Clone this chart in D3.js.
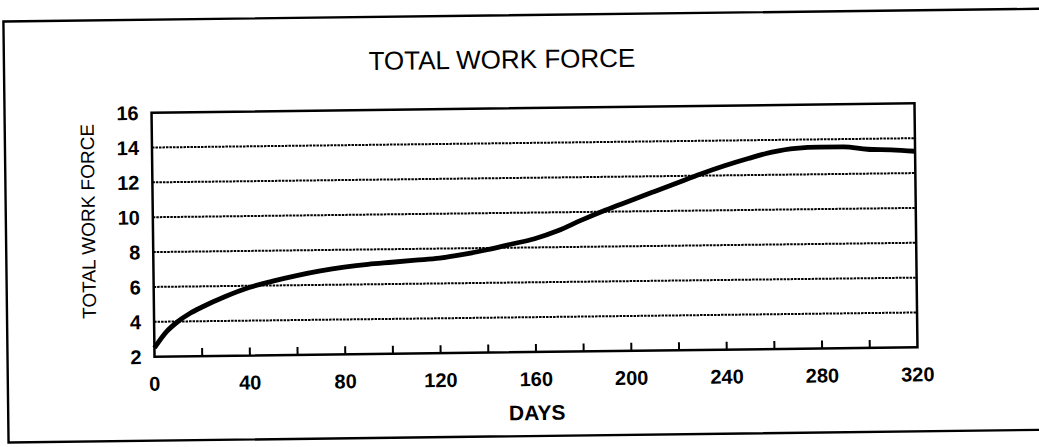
<!DOCTYPE html>
<html>
<head>
<meta charset="utf-8">
<script src="https://cdn.jsdelivr.net/npm/d3@7"></script>
<style>
  html, body { margin: 0; padding: 0; background: #fff; }
  svg { display: block; }
  text { font-family: "Liberation Sans", Arial, sans-serif; fill: #000; }
</style>
</head>
<body>
<svg id="chart" width="1039" height="447"></svg>
<script>
// ---- data ----
const days = [0,5,10,15,20,30,40,50,60,70,80,90,100,110,120,130,140,150,160,170,180,190,200,210,220,230,240,250,260,270,280,290,300,310,320];
const workForce = [2.5,3.4,4.0,4.45,4.8,5.4,5.9,6.25,6.55,6.8,7.0,7.15,7.25,7.35,7.45,7.65,7.9,8.2,8.5,8.95,9.55,10.1,10.6,11.1,11.6,12.1,12.55,12.95,13.3,13.5,13.55,13.55,13.4,13.35,13.25];
const xTickLabels = [0,40,80,120,160,200,240,280,320];
const xMinorTicks = [20,40,60,80,100,120,140,160,180,200,220,240,260,280,300];
const yTickLabels = [2,4,6,8,10,12,14,16];
const chartTitle = "TOTAL WORK FORCE";
const xTitle = "DAYS";
const yTitle = "TOTAL WORK FORCE";

// ---- layout ----
const plot = {left: 153, right: 916, top: 108, bottom: 352};

const svg = d3.select("#chart");
const g = svg.append("g").attr("transform", "rotate(-0.7 534 230)");

// outer frame
g.append("rect")
  .attr("x", 6).attr("y", 15)
  .attr("width", 1060).attr("height", 421)
  .attr("fill", "none").attr("stroke", "#000").attr("stroke-width", 2.4);

const x = d3.scaleLinear().domain([0, 320]).range([plot.left, plot.right]);
const y = d3.scaleLinear().domain([2, 16]).range([plot.bottom, plot.top]);

// title
g.append("text")
  .attr("x", 504).attr("y", 68)
  .attr("text-anchor", "middle")
  .attr("font-size", 26)
  .text(chartTitle);

// gridlines (dotted)
g.append("g").selectAll("line")
  .data(yTickLabels.filter(v => v > 2 && v < 16))
  .join("line")
  .attr("x1", plot.left).attr("x2", plot.right)
  .attr("y1", d => y(d)).attr("y2", d => y(d))
  .attr("stroke", "#000")
  .attr("stroke-width", 2)
  .attr("stroke-dasharray", "2.5,1");

// minor x ticks (pointing up into plot)
g.append("g").selectAll("line")
  .data(xMinorTicks)
  .join("line")
  .attr("x1", d => x(d)).attr("x2", d => x(d))
  .attr("y1", plot.bottom).attr("y2", plot.bottom - 8)
  .attr("stroke", "#000").attr("stroke-width", 2);

// plot border
g.append("rect")
  .attr("x", plot.left).attr("y", plot.top)
  .attr("width", plot.right - plot.left).attr("height", plot.bottom - plot.top)
  .attr("fill", "none").attr("stroke", "#000").attr("stroke-width", 2.5);

// y tick labels
g.append("g").selectAll("text")
  .data(yTickLabels)
  .join("text")
  .attr("x", 140).attr("y", d => y(d))
  .attr("dy", "0.36em")
  .attr("text-anchor", "end")
  .attr("font-size", 20)
  .attr("font-weight", "bold")
  .text(d => d);

// x tick labels
g.append("g").selectAll("text")
  .data(xTickLabels)
  .join("text")
  .attr("x", d => x(d)).attr("y", 386)
  .attr("text-anchor", "middle")
  .attr("font-size", 20)
  .attr("font-weight", "bold")
  .text(d => d);

// axis titles
g.append("text")
  .attr("x", 535).attr("y", 420)
  .attr("text-anchor", "middle")
  .attr("font-size", 21)
  .attr("font-weight", "bold")
  .text(xTitle);

g.append("text")
  .attr("transform", "translate(95,216) rotate(-90)")
  .attr("text-anchor", "middle")
  .attr("font-size", 19)
  .text(yTitle);

// data line
const line = d3.line()
  .x((d, i) => x(days[i]))
  .y(d => y(d))
  .curve(d3.curveMonotoneX);

g.append("path")
  .datum(workForce)
  .attr("d", line)
  .attr("fill", "none")
  .attr("stroke", "#000")
  .attr("stroke-width", 4.8)
  .attr("stroke-linejoin", "round");
</script>
</body>
</html>
